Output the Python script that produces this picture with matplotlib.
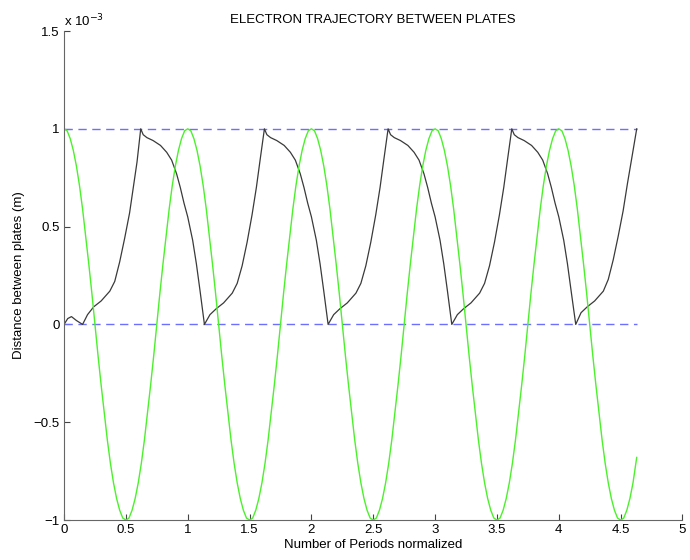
import numpy as np
import matplotlib
matplotlib.use('Agg')
import matplotlib.pyplot as plt
from matplotlib.ticker import FuncFormatter, MultipleLocator

plt.rcParams['font.family'] = ['Liberation Sans', 'DejaVu Sans']

# green reference wave, sampled every 0.025 period (units of 1e-3 m)
green_x = list(np.round(np.arange(185) * 0.025, 3)) + [4.63]
green_y = [
    1.00, 0.99, 0.95, 0.89, 0.81, 0.71, 0.59, 0.45, 0.31, 0.16,
    0.00, -0.16, -0.31, -0.45, -0.59, -0.71, -0.81, -0.89, -0.95, -0.99,
    -1.00, -0.99, -0.95, -0.89, -0.81, -0.71, -0.59, -0.45, -0.31, -0.16,
    0.00, 0.16, 0.31, 0.45, 0.59, 0.71, 0.81, 0.89, 0.95, 0.99,
    1.00, 0.99, 0.95, 0.89, 0.81, 0.71, 0.59, 0.45, 0.31, 0.16,
    0.00, -0.16, -0.31, -0.45, -0.59, -0.71, -0.81, -0.89, -0.95, -0.99,
    -1.00, -0.99, -0.95, -0.89, -0.81, -0.71, -0.59, -0.45, -0.31, -0.16,
    0.00, 0.16, 0.31, 0.45, 0.59, 0.71, 0.81, 0.89, 0.95, 0.99,
    1.00, 0.99, 0.95, 0.89, 0.81, 0.71, 0.59, 0.45, 0.31, 0.16,
    0.00, -0.16, -0.31, -0.45, -0.59, -0.71, -0.81, -0.89, -0.95, -0.99,
    -1.00, -0.99, -0.95, -0.89, -0.81, -0.71, -0.59, -0.45, -0.31, -0.16,
    0.00, 0.16, 0.31, 0.45, 0.59, 0.71, 0.81, 0.89, 0.95, 0.99,
    1.00, 0.99, 0.95, 0.89, 0.81, 0.71, 0.59, 0.45, 0.31, 0.16,
    0.00, -0.16, -0.31, -0.45, -0.59, -0.71, -0.81, -0.89, -0.95, -0.99,
    -1.00, -0.99, -0.95, -0.89, -0.81, -0.71, -0.59, -0.45, -0.31, -0.16,
    0.00, 0.16, 0.31, 0.45, 0.59, 0.71, 0.81, 0.89, 0.95, 0.99,
    1.00, 0.99, 0.95, 0.89, 0.81, 0.71, 0.59, 0.45, 0.31, 0.16,
    0.00, -0.16, -0.31, -0.45, -0.59, -0.71, -0.81, -0.89, -0.95, -0.99,
    -1.00, -0.99, -0.95, -0.89, -0.81,
    -0.68,
]

# electron position (units of 1e-3 m)
electron_x = [
    0.00, 0.03, 0.06, 0.10, 0.15,
    0.19, 0.24, 0.30, 0.37, 0.41, 0.45, 0.49, 0.53, 0.56, 0.59, 0.62,
    0.64, 0.67, 0.72, 0.78, 0.83, 0.87, 0.91, 0.94, 0.97, 1.00, 1.04, 1.07, 1.10, 1.135,
    1.18, 1.23, 1.29, 1.36, 1.40, 1.44, 1.48, 1.52, 1.555, 1.585, 1.62,
    1.64, 1.67, 1.72, 1.78, 1.83, 1.87, 1.91, 1.94, 1.97, 2.00, 2.04, 2.07, 2.10, 2.135,
    2.18, 2.23, 2.29, 2.36, 2.40, 2.44, 2.48, 2.52, 2.555, 2.585, 2.62,
    2.64, 2.67, 2.72, 2.78, 2.83, 2.87, 2.91, 2.94, 2.97, 3.00, 3.04, 3.07, 3.10, 3.135,
    3.18, 3.23, 3.29, 3.36, 3.40, 3.44, 3.48, 3.52, 3.555, 3.585, 3.62,
    3.64, 3.67, 3.72, 3.78, 3.83, 3.87, 3.91, 3.94, 3.97, 4.00, 4.04, 4.07, 4.10, 4.137,
    4.18, 4.23, 4.29, 4.36, 4.40, 4.44, 4.48, 4.52, 4.555, 4.59, 4.63,
]
electron_y = [
    0.00, 0.03, 0.04, 0.02, 0.00,
    0.05, 0.09, 0.12, 0.17, 0.22, 0.32, 0.44, 0.57, 0.70, 0.83, 1.00,
    0.97, 0.955, 0.94, 0.915, 0.88, 0.84, 0.77, 0.70, 0.62, 0.55, 0.43, 0.31, 0.17, 0.00,
    0.05, 0.08, 0.11, 0.16, 0.21, 0.30, 0.42, 0.56, 0.70, 0.84, 1.00,
    0.97, 0.955, 0.94, 0.915, 0.88, 0.84, 0.77, 0.70, 0.62, 0.55, 0.43, 0.31, 0.17, 0.00,
    0.05, 0.08, 0.11, 0.16, 0.21, 0.30, 0.42, 0.56, 0.70, 0.84, 1.00,
    0.97, 0.955, 0.94, 0.915, 0.88, 0.84, 0.77, 0.70, 0.62, 0.55, 0.43, 0.31, 0.17, 0.00,
    0.05, 0.08, 0.11, 0.16, 0.21, 0.30, 0.42, 0.56, 0.70, 0.84, 1.00,
    0.97, 0.955, 0.94, 0.915, 0.88, 0.84, 0.77, 0.70, 0.62, 0.55, 0.43, 0.31, 0.17, 0.00,
    0.06, 0.09, 0.12, 0.17, 0.23, 0.33, 0.45, 0.58, 0.72, 0.85, 1.00,
]

plate_y = [0.0, 1.0]
plate_x = [0.0, 4.63]

scale = 1e-3

fig = plt.figure(figsize=(6.9, 5.6), dpi=100)
ax = fig.add_axes([0.0928, 0.0714, 0.8963, 0.8732])

for p in plate_y:
    ax.plot(plate_x, [p * scale] * 2, color='#6f6fff', lw=1.0, ls=(0, (6, 4)))
ax.plot(electron_x, np.array(electron_y) * scale, color='#3a3a3a', lw=0.9)
ax.plot(green_x, np.array(green_y) * scale, color='#4cf02c', lw=1.0)

ax.set_xlim(0, 5)
ax.set_ylim(-1e-3, 1.5e-3)
ax.xaxis.set_major_locator(MultipleLocator(0.5))
ax.yaxis.set_major_locator(MultipleLocator(0.5e-3))
ax.xaxis.set_major_formatter(FuncFormatter(lambda v, p: ('%g' % v).replace('-', '\u2212')))
ax.yaxis.set_major_formatter(FuncFormatter(lambda v, p: ('%g' % round(v / scale, 3)).replace('-', '\u2212')))

for side in ['top', 'right']:
    ax.spines[side].set_visible(False)
for side in ['left', 'bottom']:
    ax.spines[side].set_color('#666666')
ax.tick_params(direction='in', length=4, width=0.8, color='#444444', labelsize=9.5, pad=3)

ax.text(0, 1.004, 'x 10$^{-3}$', transform=ax.transAxes, ha='left', va='bottom', fontsize=9.5)
ax.set_title('ELECTRON TRAJECTORY BETWEEN PLATES', fontsize=9.5, pad=6)
ax.set_xlabel('Number of Periods normalized', fontsize=9.5, labelpad=2)
ax.set_ylabel('Distance between plates (m)', fontsize=9.5, labelpad=6)

fig.savefig('out.png', dpi=100)
